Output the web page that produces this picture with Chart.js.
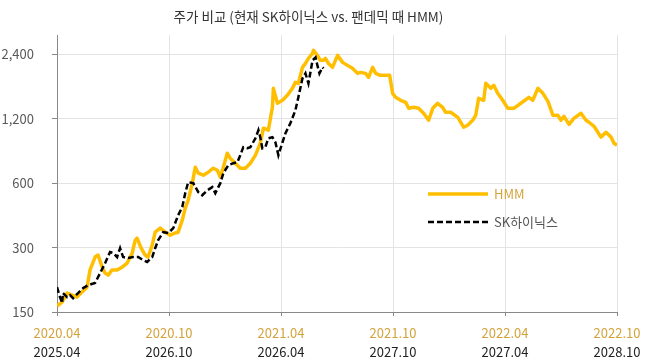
<!DOCTYPE html>
<html>
<head>
<meta charset="utf-8">
<script src="https://cdn.jsdelivr.net/npm/chart.js@4"></script>
<style>
  body { margin: 0; background: #fff; }
</style>
</head>
<body>
<canvas id="chart" width="658" height="361"></canvas>
<script>
// months since start of each window, and price
const hmmMonths = [0.00, 0.27, 0.54, 0.81, 1.07, 1.34, 1.61, 1.77, 2.04, 2.20, 2.42, 2.58, 2.74, 2.95, 3.22, 3.49, 3.76, 4.03, 4.19, 4.29,
    4.51, 4.72, 4.88, 5.10, 5.26, 5.53, 5.80, 6.06, 6.33, 6.49, 6.71, 6.87, 7.03, 7.25, 7.41, 7.57, 7.84, 8.10, 8.37, 8.59,
    8.75, 8.91, 9.12, 9.28, 9.55, 9.82, 10.09, 10.36, 10.63, 10.89, 11.06, 11.32, 11.54, 11.59, 11.81, 12.08, 12.34, 12.61, 12.77, 12.93,
    13.15, 13.31, 13.47, 13.69, 13.74, 13.95, 14.11, 14.28, 14.38, 14.54, 14.76, 15.03, 15.30, 15.56, 15.83, 16.10, 16.26, 16.53, 16.69, 16.91,
    17.07, 17.33, 17.60, 17.82, 17.98, 18.14, 18.41, 18.68, 18.84, 19.11, 19.37, 19.64, 19.91, 20.13, 20.39, 20.66, 20.82, 21.09, 21.47, 21.79,
    22.00, 22.27, 22.43, 22.59, 22.86, 22.97, 23.24, 23.40, 23.61, 23.88, 24.15, 24.47, 24.85, 25.28, 25.49, 25.76, 26.03, 26.30, 26.57, 26.83,
    27.00, 27.16, 27.43, 27.69, 28.07, 28.34, 28.50, 28.77, 29.14, 29.41, 29.68, 29.84, 30.00];
const hmmPrices = [160, 167, 184, 180, 176, 186, 196, 236, 271, 277, 243, 228, 223, 236, 236, 243, 254, 283, 325, 332,
    298, 277, 271, 308, 354, 370, 354, 343, 351, 354, 403, 459, 500, 600, 713, 668, 654, 675, 705, 690,
    640, 713, 828, 785, 744, 705, 705, 744, 811, 922, 1084, 1061, 1358, 1665, 1418, 1464, 1545, 1665, 1776, 1757,
    2087, 2178, 2299, 2427, 2505, 2374, 2250, 2250, 2299, 2178, 2087, 2374, 2202, 2132, 2065, 1956, 1978, 1956, 1874, 2087,
    1956, 1915, 1915, 1915, 1578, 1512, 1464, 1433, 1343, 1358, 1343, 1273, 1181, 1343, 1418, 1358, 1287, 1287, 1219, 1095,
    1119, 1181, 1246, 1496, 1464, 1757, 1665, 1720, 1578, 1464, 1343, 1343, 1418, 1512, 1464, 1665, 1578, 1448, 1246, 1246,
    1181, 1232, 1130, 1206, 1273, 1181, 1156, 1107, 985, 1038, 985, 922, 903];

const skMonths = [0.00, 0.16, 0.27, 0.32, 0.54, 0.70, 0.86, 1.13, 1.40, 1.66, 2.04, 2.31, 2.58, 2.84, 3.01, 3.22, 3.38, 3.54, 3.81, 4.08,
    4.35, 4.62, 4.83, 5.10, 5.26, 5.42, 5.69, 5.96, 6.23, 6.49, 6.71, 6.87, 7.03, 7.30, 7.57, 7.78, 8.05, 8.32, 8.48, 8.75,
    8.91, 9.18, 9.45, 9.66, 9.82, 9.98, 10.20, 10.36, 10.63, 10.79, 10.89, 11.00, 11.16, 11.32, 11.54, 11.70, 11.86, 12.08, 12.24, 12.50,
    12.77, 12.93, 13.15, 13.31, 13.47, 13.69, 13.85, 13.95, 14.06, 14.22, 14.28];
const skPrices = [196, 176, 165, 184, 176, 180, 174, 184, 194, 200, 205, 228, 254, 286, 283, 271, 298, 271, 268, 271,
    271, 262, 257, 271, 298, 325, 354, 351, 370, 425, 464, 539, 607, 600, 545, 527, 556, 575, 539, 600,
    668, 728, 744, 752, 811, 884, 874, 884, 973, 1061, 984, 874, 884, 973, 984, 932, 811, 932, 1027, 1143,
    1315, 1512, 1854, 1956, 1757, 2250, 2323, 2132, 1956, 2087, 2065];

const hmmTickLabels = ['2020.04', '2020.10', '2021.04', '2021.10', '2022.04', '2022.10'];
const skTickLabels = ['2025.04', '2026.10', '2026.04', '2027.10', '2027.04', '2028.10'];
const yTicks = [150, 300, 600, 1200, 2400];

const GOLD = '#FFBF00';
const GOLD_TEXT = '#D4A33B';
const FONT = "'Noto Sans CJK KR', 'Noto Sans', sans-serif";

const toPoints = (xs, ys) => xs.map((x, i) => ({ x: x, y: ys[i] }));

// axis lines + legend drawn by hand
const extrasPlugin = {
    id: 'extras',
    beforeDatasetsDraw(chart) {
        const { ctx, chartArea: a } = chart;
        ctx.save();
        ctx.strokeStyle = '#888';
        ctx.lineWidth = 1;
        ctx.beginPath();
        ctx.moveTo(Math.round(a.left) + 0.5, a.top);
        ctx.lineTo(Math.round(a.left) + 0.5, Math.round(a.bottom) + 0.5);
        ctx.lineTo(a.right, Math.round(a.bottom) + 0.5);
        ctx.stroke();
        ctx.restore();
    },
    afterDraw(chart) {
        const ctx = chart.ctx;
        const items = [
            { label: 'HMM', color: GOLD, width: 3.5, dash: [], text: GOLD_TEXT, y: 194 },
            { label: 'SK하이닉스', color: '#000', width: 2.5, dash: [6, 3], text: '#555', y: 222 }
        ];
        ctx.save();
        items.forEach(it => {
            ctx.beginPath();
            ctx.setLineDash(it.dash);
            ctx.lineWidth = it.width;
            ctx.strokeStyle = it.color;
            ctx.moveTo(428, it.y);
            ctx.lineTo(488, it.y);
            ctx.stroke();
            ctx.setLineDash([]);
            ctx.fillStyle = it.text;
            ctx.font = '13px ' + FONT;
            ctx.textBaseline = 'middle';
            ctx.fillText(it.label, 494, it.y);
        });
        ctx.restore();
    }
};

new Chart(document.getElementById('chart'), {
    type: 'line',
    data: {
        datasets: [{
            label: 'HMM',
            data: toPoints(hmmMonths, hmmPrices),
            borderColor: GOLD,
            borderWidth: 3.5,
            pointRadius: 0,
            borderJoinStyle: 'round',
            order: 2
        }, {
            label: 'SK하이닉스',
            data: toPoints(skMonths, skPrices),
            borderColor: '#000',
            borderWidth: 2.5,
            borderDash: [6, 3],
            pointRadius: 0,
            order: 1
        }]
    },
    options: {
        responsive: false,
        animation: false,
        devicePixelRatio: 1,
        layout: { padding: { left: 0, right: 41, top: 0, bottom: 0 } },
        plugins: {
            legend: { display: false },
            tooltip: { enabled: false },
            title: {
                display: true,
                text: '주가 비교 (현재 SK하이닉스 vs. 팬데믹 때 HMM)',
                color: '#333',
                font: { family: FONT, size: 13.5, weight: 'normal' },
                padding: { top: 9, bottom: 10 }
            }
        },
        scales: {
            x: {
                type: 'linear',
                position: 'bottom',
                min: 0,
                max: 30,
                afterBuildTicks: s => { s.ticks = [0, 6, 12, 18, 24, 30].map(v => ({ value: v })); },
                afterFit: s => { s.height = 28; },
                ticks: {
                    color: GOLD_TEXT,
                    font: { family: FONT, size: 13 },
                    padding: 9,
                    maxRotation: 0,
                    callback: v => hmmTickLabels[v / 6]
                },
                grid: {
                    color: '#e3e3e3',
                    tickLength: 4,
                    tickColor: '#888'
                },
                border: { color: '#888', width: 1 }
            },
            x2: {
                type: 'linear',
                position: 'bottom',
                min: 0,
                max: 30,
                afterBuildTicks: s => { s.ticks = [0, 6, 12, 18, 24, 30].map(v => ({ value: v })); },
                afterFit: s => { s.height = 21; },
                ticks: {
                    color: '#222',
                    font: { family: FONT, size: 13 },
                    padding: 4,
                    maxRotation: 0,
                    callback: v => skTickLabels[v / 6]
                },
                grid: { display: false, drawTicks: false },
                border: { display: false }
            },
            y: {
                type: 'logarithmic',
                min: 150,
                max: 2950,
                afterBuildTicks: s => { s.ticks = yTicks.map(v => ({ value: v })); },
                afterFit: s => { s.width = 57; },
                ticks: {
                    color: '#595959',
                    font: { family: FONT, size: 13 },
                    padding: 18,
                    callback: v => v.toLocaleString('en-US')
                },
                grid: {
                    color: '#e3e3e3',
                    tickLength: 5,
                    tickColor: '#888'
                },
                border: { color: '#888', width: 1 }
            }
        }
    },
    plugins: [extrasPlugin]
});
</script>
</body>
</html>
